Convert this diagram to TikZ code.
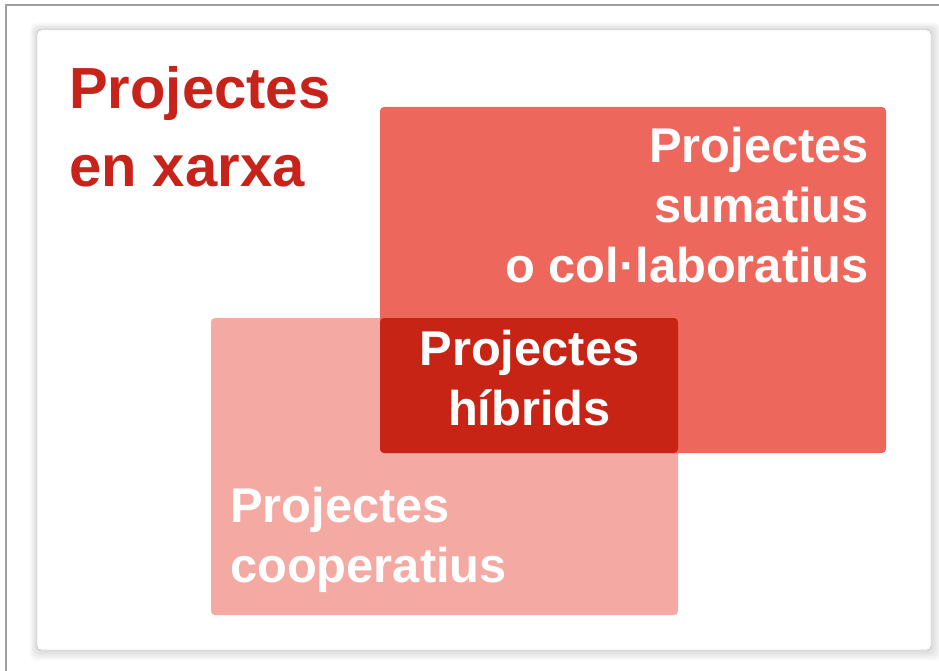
\documentclass[tikz,border=0pt]{standalone}
\usepackage{fontspec}
\setmainfont{Liberation Sans}
\usetikzlibrary{positioning}

\definecolor{titlered}{RGB}{200,35,26}
\definecolor{sumred}{RGB}{238,103,92}
\definecolor{coopink}{RGB}{245,169,163}
\definecolor{hybred}{RGB}{199,36,22}

\begin{document}
\begin{tikzpicture}[x=1pt, y=-1pt,
  boxtext/.style={text=white, font=\bfseries\fontsize{48.8}{60}\selectfont, inner sep=0pt},
  box/.style={rounded corners=4pt}]

% Bounding box
\useasboundingbox (0,0) rectangle (939,671);
\fill[white] (0,0) rectangle (939,671);

% Outer frame
\draw[gray!75, line width=1.5pt] (6,671) -- (6,5) -- (939,5);

% Card shadow
\foreach \s in {1,...,7} {
    \fill[black, opacity=0.02, rounded corners=6pt] (37-\s, 30-\s) rectangle (931+1.5*\s, 650+1.5*\s);
}

% Card
\draw[gray!55, fill=white, rounded corners=4pt] (37,30) rectangle (931,650);

% Rectangles
\fill[coopink, box] (211,318) rectangle (678,615);
\fill[sumred, box] (380,107) rectangle (886,453);
\fill[hybred, box] (380,318) rectangle (678,453);

% Texts
\node[text=titlered, font=\bfseries\fontsize{58}{78}\selectfont, inner sep=0pt, anchor=north west, align=left] (title) at (69,66) {Projectes\\en xarxa};
\node[boxtext, anchor=north east, align=right] (sum) at (869,127) {Projectes\\sumatius\\o col·laboratius};
\node[boxtext, anchor=north, align=center] (hyb) at (529.5,330) {Projectes\\híbrids};
\node[boxtext, anchor=north west, align=left] (coop) at (230,487) {Projectes\\cooperatius};

\end{tikzpicture}
\end{document}
